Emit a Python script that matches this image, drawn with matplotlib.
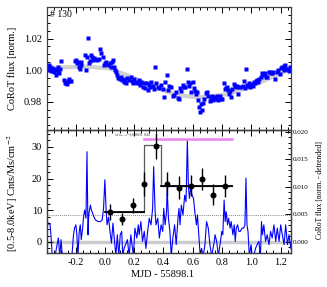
import matplotlib
matplotlib.use('Agg')
import matplotlib.pyplot as plt
from matplotlib.ticker import MultipleLocator, FixedLocator, FormatStrFormatter

plt.rcParams['font.family'] = ['Liberation Serif', 'DejaVu Serif']
plt.rcParams['mathtext.fontset'] = 'stix'
plt.rcParams['axes.unicode_minus'] = False

# ---------------- top panel: CoRoT normalised flux ----------------
corot_t = [-0.402, -0.393, -0.386, -0.379, -0.372, -0.368, -0.359, -0.352, -0.345, -0.340,
           -0.336, -0.326, -0.322, -0.317, -0.310, -0.303, -0.299, -0.276, -0.271, -0.264,
           -0.260, -0.255, -0.248, -0.241, -0.232, -0.207, -0.198, -0.191, -0.184, -0.179,
           -0.172, -0.166, -0.161, -0.138, -0.129, -0.122, -0.115, -0.108, -0.101, -0.097,
           -0.087, -0.080, -0.074, -0.064, -0.053, -0.041, -0.030, -0.023, -0.014, -0.007,
           0.000, 0.009, 0.023, 0.032, 0.039, 0.046, 0.055, 0.062, 0.069, 0.074,
           0.085, 0.092, 0.101, 0.108, 0.115, 0.124, 0.131, 0.138, 0.147, 0.154,
           0.166, 0.177, 0.184, 0.193, 0.202, 0.211, 0.218, 0.230, 0.239, 0.248,
           0.257, 0.269, 0.276, 0.285, 0.292, 0.299, 0.308, 0.317, 0.326, 0.338,
           0.345, 0.349, 0.361, 0.372, 0.384, 0.395, 0.407, 0.411, 0.421, 0.428,
           0.439, 0.451, 0.462, 0.474, 0.485, 0.497, 0.503, 0.513, 0.520, 0.531,
           0.538, 0.547, 0.559, 0.566, 0.572, 0.582, 0.589, 0.600, 0.607, 0.614,
           0.623, 0.630, 0.637, 0.641, 0.646, 0.655, 0.664, 0.669, 0.680, 0.687,
           0.697, 0.706, 0.715, 0.726, 0.733, 0.738, 0.745, 0.752, 0.761, 0.768,
           0.775, 0.784, 0.795, 0.802, 0.811, 0.818, 0.825, 0.834, 0.841, 0.848,
           0.857, 0.864, 0.871, 0.880, 0.887, 0.894, 0.903, 0.910, 0.917, 0.926,
           0.940, 0.949, 0.956, 0.963, 0.968, 0.977, 0.984, 0.991, 1.000, 1.009,
           1.018, 1.025, 1.032, 1.041, 1.048, 1.055, 1.064, 1.071, 1.078, 1.087,
           1.094, 1.101, 1.110, 1.117, 1.124, 1.133, 1.142, 1.149, 1.161, 1.175,
           1.184, 1.195, 1.202, 1.209, 1.221, 1.225, 1.232, 1.239, 1.248, 1.257,
           1.267, 1.274]
corot_flux = [1.0010, 1.0025, 1.0000, 1.0032, 1.0021, 0.9996, 1.0015, 1.0000, 0.9989, 1.0010,
              0.9968, 1.0000, 1.0021, 0.9989, 0.9983, 1.0010, 1.0057, 0.9936, 0.9920, 0.9915,
              0.9911, 0.9928, 0.9941, 0.9930, 0.9930, 1.0059, 1.0064, 1.0042, 1.0053, 1.0021,
              1.0010, 1.0032, 1.0053, 1.0095, 1.0000, 1.0085, 1.0201, 1.0042, 1.0059, 1.0095,
              1.0085, 1.0064, 1.0074, 1.0068, 1.0064, 1.0068, 1.0131, 1.0110, 1.0085, 1.0032,
              1.0042, 1.0053, 1.0032, 1.0047, 1.0021, 1.0053, 1.0064, 1.0021, 1.0000, 0.9989,
              0.9968, 0.9947, 0.9941, 0.9953, 0.9936, 0.9945, 0.9926, 0.9936, 0.9915, 0.9947,
              0.9936, 0.9958, 0.9932, 0.9920, 0.9941, 0.9926, 0.9915, 0.9936, 0.9905, 0.9926,
              0.9894, 0.9915, 0.9884, 0.9920, 0.9873, 0.9905, 0.9894, 0.9926, 0.9898, 0.9877,
              1.0021, 0.9915, 0.9890, 0.9884, 0.9905, 0.9877, 0.9830, 0.9926, 0.9968, 0.9873,
              0.9898, 0.9890, 0.9835, 0.9845, 0.9862, 0.9824, 0.9814, 0.9884, 0.9869, 0.9905,
              0.9894, 0.9890, 1.0010, 0.9926, 0.9898, 0.9920, 0.9862, 0.9926, 0.9884, 0.9869,
              0.9848, 0.9862, 0.9809, 0.9767, 0.9735, 0.9788, 0.9746, 0.9792, 0.9814, 0.9856,
              0.9862, 0.9835, 0.9805, 0.9820, 0.9835, 0.9809, 0.9831, 0.9814, 0.9826, 0.9835,
              0.9809, 0.9835, 0.9818, 0.9814, 0.9920, 0.9877, 0.9884, 0.9894, 0.9873, 0.9848,
              0.9869, 0.9831, 0.9877, 0.9911, 0.9898, 0.9890, 0.9898, 0.9848, 0.9894, 0.9890,
              0.9898, 0.9930, 0.9884, 1.0010, 0.9905, 0.9898, 0.9915, 0.9890, 0.9911, 0.9898,
              0.9926, 0.9915, 0.9932, 0.9936, 0.9926, 0.9941, 0.9953, 0.9983, 0.9968, 0.9975,
              0.9983, 0.9953, 0.9958, 0.9989, 0.9989, 0.9979, 0.9983, 0.9989, 0.9941, 0.9989,
              1.0000, 0.9975, 1.0015, 1.0021, 1.0000, 1.0025, 1.0032, 1.0004, 1.0010, 0.9996,
              1.0021, 1.0017]

trend_t = [-0.40, -0.18, -0.11, 0.03, 0.15, 0.36, 0.50, 0.60, 0.70, 0.85, 0.99, 1.13, 1.27]
trend_flux = [1.0013, 1.0021, 1.0021, 1.0011, 0.9968, 0.9884, 0.9841, 0.9830, 0.9829, 0.9850,
              0.9894, 0.9950, 1.0010]

# ---------------- bottom panel: detrended CoRoT flux ----------------
det_t = [-0.409, -0.400, -0.391, -0.382, -0.375, -0.368, -0.359, -0.340, -0.326, -0.317,
         -0.308, -0.299, -0.290, -0.271, -0.248, -0.225, -0.214, -0.207, -0.198, -0.191,
         -0.184, -0.175, -0.168, -0.161, -0.152, -0.145, -0.138, -0.129, -0.122, -0.115,
         -0.110, -0.099, -0.092, -0.083, -0.076, -0.064, -0.046, -0.030, -0.018, -0.009,
         0.000, 0.008, 0.015, 0.025, 0.035, 0.045, 0.055, 0.065, 0.075, 0.085,
         0.095, 0.105, 0.115, 0.122, 0.131, 0.154, 0.166, 0.177, 0.195, 0.205,
         0.218, 0.228, 0.234, 0.246, 0.257, 0.269, 0.280, 0.292, 0.303, 0.315,
         0.326, 0.333, 0.343, 0.349, 0.361, 0.372, 0.384, 0.395, 0.402, 0.411,
         0.421, 0.425, 0.434, 0.444, 0.453, 0.464, 0.476, 0.487, 0.499, 0.506,
         0.513, 0.522, 0.533, 0.545, 0.554, 0.563, 0.570, 0.577, 0.586, 0.595,
         0.605, 0.614, 0.625, 0.632, 0.641, 0.651, 0.660, 0.671, 0.683, 0.694,
         0.706, 0.717, 0.729, 0.747, 0.752, 0.763, 0.775, 0.786, 0.798, 0.805,
         0.814, 0.821, 0.828, 0.837, 0.844, 0.855, 0.862, 0.874, 0.883, 0.890,
         0.897, 0.906, 0.915, 0.924, 0.936, 0.947, 0.956, 0.963, 0.970, 0.977,
         0.986, 0.998, 1.005, 1.016, 1.028, 1.039, 1.051, 1.062, 1.069, 1.076,
         1.085, 1.097, 1.108, 1.120, 1.131, 1.142, 1.154, 1.166, 1.177, 1.189,
         1.200, 1.211, 1.223, 1.234, 1.246, 1.257, 1.269, 1.276, 1.283]
det_flux = [0.0031, 0.0033, 0.0036, 0.0032, 0.0034, 0.0013, -0.0026, -0.0026, -0.0005, 0.0007,
            -0.0026, 0.0004, -0.0026, -0.0026, -0.0026, -0.0026, 0.0013, 0.0025, 0.0031, 0.0013,
            -0.0026, 0.0019, 0.0031, 0.0004, 0.0025, 0.0046, 0.0058, 0.0043, 0.0164, 0.0013,
            0.0049, 0.0067, 0.0058, 0.0052, 0.0046, 0.0040, 0.0037, 0.0037, 0.0040, 0.0061,
            0.0113, 0.0061, 0.0031, 0.0045, 0.0019, -0.0002, 0.0034, 0.0005, -0.0026, 0.0013,
            -0.0026, 0.0013, 0.0019, -0.0026, -0.0012, 0.0004, -0.0026, 0.0013, -0.0026, 0.0025,
            0.0007, 0.0031, 0.0013, 0.0037, 0.0001, 0.0019, -0.0012, 0.0019, 0.0043, 0.0031,
            0.0061, 0.0137, 0.0055, 0.0031, 0.0043, 0.0007, 0.0031, 0.0019, 0.0061, 0.0031,
            0.0055, 0.0098, 0.0043, 0.0019, -0.0026, 0.0007, 0.0031, -0.0005, 0.0043, 0.0061,
            0.0031, 0.0067, 0.0049, 0.0085, 0.0073, 0.0185, 0.0104, 0.0079, 0.0098, 0.0085,
            0.0079, 0.0055, 0.0031, 0.0049, 0.0013, -0.0026, -0.0012, -0.0026, -0.0005, 0.0037,
            0.0025, -0.0005, -0.0026, 0.0001, 0.0013, 0.0001, -0.0026, -0.0005, 0.0019, 0.0013,
            0.0076, 0.0037, 0.0055, 0.0031, 0.0043, 0.0025, 0.0037, 0.0013, 0.0031, 0.0001,
            0.0025, 0.0031, 0.0019, 0.0019, 0.0025, 0.0025, 0.0031, 0.0116, 0.0031, 0.0019,
            -0.0026, -0.0005, -0.0026, -0.0026, -0.0012, -0.0005, 0.0001, -0.0026, 0.0037, 0.0013,
            0.0031, 0.0001, 0.0013, -0.0005, 0.0019, 0.0007, 0.0031, 0.0001, 0.0025, 0.0001,
            0.0031, 0.0013, -0.0005, 0.0031, -0.0005, 0.0013, -0.0012, 0.0007, 0.0031]
det_threshold = 0.0048

# ---------------- bottom panel: X-ray binned rate ----------------
xray_t = [0.034, 0.115, 0.190, 0.270, 0.347, 0.425, 0.506, 0.586, 0.664, 0.740, 0.820]
xray_rate = [9.4, 7.2, 11.5, 18.3, 30.3, 18.3, 17.1, 17.7, 19.8, 14.9, 17.7]
xray_err = [2.4, 2.0, 2.3, 3.7, 4.0, 3.7, 3.6, 3.3, 3.5, 3.3, 3.5]

block_edges = [0.00, 0.27, 0.38, 0.87]
block_rate = [9.3, 30.6, 17.6]

flare_start, flare_end, flare_level = 0.27, 0.87, 32.5
flare_text = r'$t_{d}/t_{ph,td}$=1.000/0.042'

# ---------------- figure ----------------
fig = plt.figure(figsize=(3.27, 2.87), dpi=100)
L, W = 0.1437, 0.746
ax1 = fig.add_axes([L, 0.547, W, 0.4286])
ax2 = fig.add_axes([L, 0.1185, W, 0.4285], sharex=ax1)

TICK_FS = 7.5
XLIM = (-0.395, 1.27)

# top panel
ax1.plot(trend_t, trend_flux, color='0.82', lw=3.0, solid_capstyle='round', zorder=1)
ax1.plot(corot_t, corot_flux, 's', ms=2.2, color='blue', mec='none', zorder=2)
ax1.set_xlim(*XLIM)
ax1.set_ylim(0.962, 1.040)
ax1.yaxis.set_major_locator(FixedLocator([0.98, 1.00, 1.02, 1.04]))
ax1.yaxis.set_minor_locator(MultipleLocator(0.005))
ax1.set_yticklabels(['0.98', '1.00', '1.02', ''])
ax1.xaxis.set_major_locator(MultipleLocator(0.2))
ax1.xaxis.set_minor_locator(MultipleLocator(0.05))
ax1.tick_params(axis='both', which='both', direction='in', top=True, right=True,
                labelbottom=False, labelsize=TICK_FS, width=0.7)
ax1.tick_params(which='major', length=4)
ax1.tick_params(which='minor', length=2)
ax1.text(0.012, 0.975, '# 130', transform=ax1.transAxes, ha='left', va='top', fontsize=7)

# bottom panel: detrended flux on right axis (behind)
ax3 = ax2.twinx()
ax2.set_zorder(ax3.get_zorder() + 1)
ax2.patch.set_visible(False)
ax3.axhline(0.0, color='0.8', lw=2.5, zorder=1)
ax3.axhline(det_threshold, color='0.35', lw=0.6, ls=(0, (1, 1.5)), zorder=1)
ax3.plot(det_t, det_flux, color='blue', lw=0.8, zorder=2)
ax3.set_ylim(-0.00202, 0.02035)
ax3.yaxis.set_major_locator(MultipleLocator(0.005))
ax3.yaxis.set_minor_locator(MultipleLocator(0.001))
ax3.yaxis.set_major_formatter(FormatStrFormatter('%.3f'))
ax3.tick_params(axis='y', which='both', direction='in', labelsize=5, width=0.7, pad=1.5)
ax3.tick_params(which='major', length=4)
ax3.tick_params(which='minor', length=2)

# bottom panel: X-ray
for i in range(len(block_rate)):
    if i != 1:
        ax2.plot([block_edges[i], block_edges[i + 1]], [block_rate[i], block_rate[i]],
                 color='black', lw=1.3, zorder=3)
ax2.step(block_edges, block_rate + [block_rate[-1]], where='post', color='0.35', lw=0.9, zorder=2)
ax2.errorbar(xray_t, xray_rate, yerr=xray_err, fmt='o', ms=3.3, color='black',
             elinewidth=1.0, capsize=0, zorder=4)
ax2.plot([flare_start, flare_end], [flare_level, flare_level], color='violet', lw=1.8, zorder=3)
ax2.text(0.317, 33.4, flare_text, ha='right', va='center', fontsize=3.2, color='0.3')

ax2.set_xlim(*XLIM)
ax2.set_ylim(-3.5, 35.3)
ax2.yaxis.set_major_locator(MultipleLocator(10))
ax2.yaxis.set_minor_locator(MultipleLocator(2))
ax2.xaxis.set_major_locator(MultipleLocator(0.2))
ax2.xaxis.set_minor_locator(MultipleLocator(0.05))
ax2.xaxis.set_major_formatter(FormatStrFormatter('%.1f'))
ax2.tick_params(axis='both', which='both', direction='in', top=True, right=False,
                labelsize=TICK_FS, width=0.7)
ax2.tick_params(which='major', length=4)
ax2.tick_params(which='minor', length=2)

for a in (ax1, ax2, ax3):
    for s in a.spines.values():
        s.set_linewidth(0.9)
        s.set_color('0.25')

fig.text(0.037, 0.763, 'CoRoT flux [norm.]', rotation=90, ha='center', va='center', fontsize=7.5)
fig.text(0.037, 0.327, r'[0.5-8.0keV] Cnts/Ms/cm$^{-2}$', rotation=90, ha='center', va='center',
         fontsize=7.5)
fig.text(0.979, 0.338, 'CoRoT flux [norm. - detrended]', rotation=90, ha='center', va='center',
         fontsize=5.5)
fig.text(0.498, 0.042, 'MJD - 55898.1', ha='center', va='center', fontsize=7.5)

fig.savefig('out.png', dpi=100)
